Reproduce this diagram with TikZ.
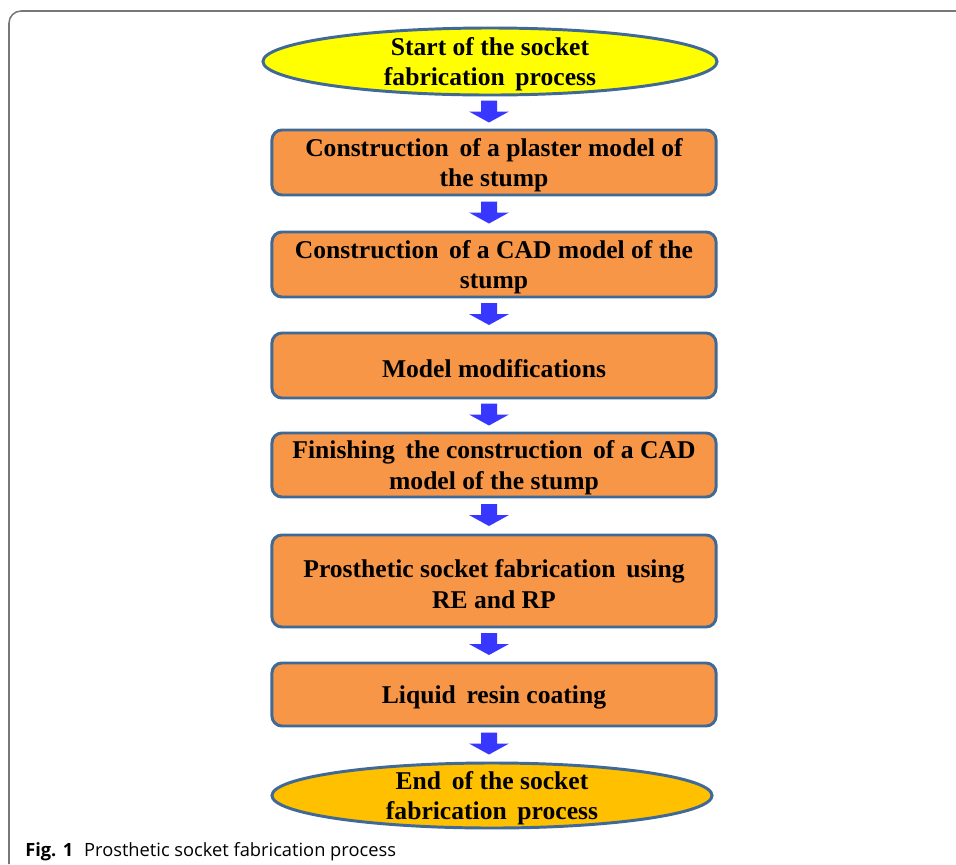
\documentclass[tikz,border=0pt]{standalone}
\usepackage{fontspec}
\setmainfont{Liberation Serif}
\newfontfamily\capfont{Open Sans}
\usetikzlibrary{shapes.geometric,calc}
\definecolor{bordblue}{RGB}{65,105,150}
\definecolor{stepfill}{RGB}{247,150,70}
\definecolor{startfill}{RGB}{255,255,0}
\definecolor{endfill}{RGB}{255,192,0}
\definecolor{arrblue}{RGB}{55,55,255}
\definecolor{framegray}{RGB}{120,120,120}
\tikzset{
  stepbox/.style={draw=bordblue, line width=2.1pt, fill=stepfill, rounded corners=0.25cm,
    minimum width=11.1cm, inner sep=0pt},
  termshape/.style={draw=bordblue, line width=2.1pt, ellipse, inner sep=0pt},
  steptext/.style={align=center, font=\bfseries\fontsize{18.2}{21.8}\selectfont, inner sep=0pt, yshift=-2pt},
}
\newcommand\blockarrow[2]{%
  \path ($(#1.south)!0.5!(#2.north)$) coordinate (m#1);
  \fill[arrblue] ($(m#1 -| ax)+(-8,-12)$) -- ++(16,0) -- ++(0,11) -- ++(12,0) -- ++(-20,11) -- ++(-20,-11) -- ++(12,0) -- cycle;
}
\begin{document}
\begin{tikzpicture}[x=0.025cm,y=-0.025cm]
\useasboundingbox (0,0) rectangle (956,864);
\fill[white] (0,0) rectangle (956,864);
% frame
\coordinate (fa) at (9,864);
\coordinate (fb) at (9,11);
\coordinate (fc) at (956,11);
\draw[framegray, line width=1.1pt, rounded corners=0.3cm] (fa) -- (fb) -- (fc);
\coordinate (ax) at (489,0);
% nodes
\node[termshape, fill=startfill, minimum width=11.35cm, minimum height=1.675cm] (start) at (490,61.5) {};
\node[steptext] (starttxt) at (start) {Start of the socket\\fabrication\, process};
\node[stepbox, minimum height=1.625cm] (b1) at (494,162.5) {};
\node[steptext] (t1) at (b1) {Construction\, of a plaster model of\\the stump};
\node[stepbox, minimum height=1.625cm] (b2) at (494,264.5) {};
\node[steptext] (t2) at (b2) {Construction\, of a CAD model of the\\stump};
\node[stepbox, minimum height=1.625cm] (b3) at (494,365.5) {};
\node[steptext] (t3) at (b3) {Model modifications};
\node[stepbox, minimum height=1.6cm] (b4) at (494,465) {};
\node[steptext] (t4) at (b4) {Finishing\, the construction\, of a CAD\\model of the stump};
\node[stepbox, minimum height=2.3cm] (b5) at (494,581) {};
\node[steptext] (t5) at (b5) {Prosthetic socket fabrication\, using\\RE and RP};
\node[stepbox, minimum height=1.575cm] (b6) at (494,694.5) {};
\node[steptext] (t6) at (b6) {Liquid\, resin coating};
\node[termshape, fill=endfill, minimum width=11cm, minimum height=1.625cm] (end) at (492,795.5) {};
\node[steptext] (endtxt) at (end) {End\, of the socket\\fabrication\, process};
% arrows
\blockarrow{start}{b1}
\blockarrow{b1}{b2}
\blockarrow{b2}{b3}
\blockarrow{b3}{b4}
\blockarrow{b4}{b5}
\blockarrow{b5}{b6}
\blockarrow{b6}{end}
% caption
\node[anchor=base west, inner sep=0pt, font=\capfont\fontsize{13}{15}\selectfont] (cap) at (25,856) {\textbf{Fig. 1}\hspace{0.6em}Prosthetic socket fabrication process};
\end{tikzpicture}
\end{document}
